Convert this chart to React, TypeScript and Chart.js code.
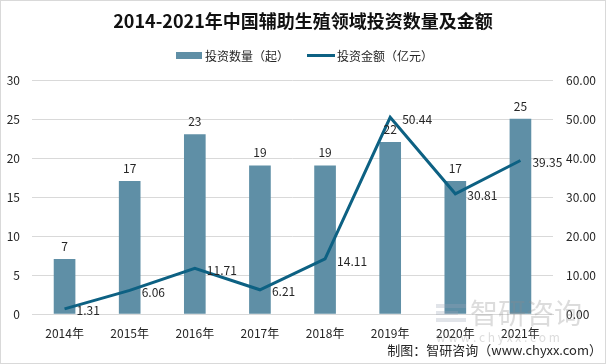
import React, { useEffect, useRef } from "react";
import { Chart, registerables } from "chart.js";

Chart.register(...registerables);

const categories = ["2014年", "2015年", "2016年", "2017年", "2018年", "2019年", "2020年", "2021年"];
const dealCounts = [7, 17, 23, 19, 19, 22, 17, 25];
const amounts = [1.31, 6.06, 11.71, 6.21, 14.11, 50.44, 30.81, 39.35];
const leftTicks = [0, 5, 10, 15, 20, 25, 30];
const rightTicks = [0, 10, 20, 30, 40, 50, 60];

const TITLE = "2014-2021年中国辅助生殖领域投资数量及金额";
const BAR_NAME = "投资数量（起）";
const LINE_NAME = "投资金额（亿元）";
const SOURCE = "制图：智研咨询（www.chyxx.com）";

const BAR_COLOR = "#5f8fa6";
const LINE_COLOR = "#0d6183";
const FONT = '"Noto Sans CJK SC", "Noto Sans", sans-serif';
const TEXT = "#262626";

const decorPlugin = {
  id: "decor",
  beforeDraw(chart: any) {
    const ctx = chart.ctx;
    ctx.save();
    ctx.fillStyle = "#ffffff";
    ctx.fillRect(0, 0, chart.width, chart.height);
    ctx.strokeStyle = "#d9d9d9";
    ctx.lineWidth = 1;
    ctx.strokeRect(0.5, 0.5, chart.width - 1, chart.height - 1);
    ctx.restore();
  },
  afterDatasetsDraw(chart: any) {
    const ctx = chart.ctx;
    ctx.save();
    // watermark
    ctx.globalAlpha = 0.3;
    ctx.fillStyle = "#9aa5b5";
    ctx.fillRect(436, 304, 30, 4);
    ctx.fillRect(436, 311, 22, 4);
    ctx.fillRect(436, 318, 30, 4);
    ctx.fillStyle = "#8a8a8a";
    ctx.font = `28px ${FONT}`;
    ctx.textAlign = "left";
    ctx.textBaseline = "middle";
    ctx.fillText("智研咨询", 470, 313);
    ctx.font = `12px ${FONT}`;
    ctx.fillText("w w w . c h y x x . c o m", 436, 337);
    ctx.globalAlpha = 1;

    // bar labels
    ctx.fillStyle = TEXT;
    ctx.font = `12px ${FONT}`;
    ctx.textAlign = "center";
    ctx.textBaseline = "middle";
    const barMeta = chart.getDatasetMeta(0);
    barMeta.data.forEach((el: any, i: number) => {
      ctx.fillText(String(dealCounts[i]), el.x, el.y - 13);
    });
    // line labels
    ctx.textAlign = "left";
    const lineMeta = chart.getDatasetMeta(1);
    lineMeta.data.forEach((el: any, i: number) => {
      ctx.fillText(amounts[i].toFixed(2), el.x + 12, el.y + 2);
    });

    // title
    ctx.font = `bold 18px ${FONT}`;
    ctx.textAlign = "center";
    ctx.fillStyle = "#111111";
    ctx.fillText(TITLE, 303, 21);

    // legend
    ctx.font = `12px ${FONT}`;
    ctx.textAlign = "left";
    ctx.fillStyle = BAR_COLOR;
    ctx.fillRect(176, 52, 26, 7);
    ctx.fillStyle = TEXT;
    ctx.fillText(BAR_NAME, 205, 56);
    ctx.strokeStyle = LINE_COLOR;
    ctx.lineWidth = 3;
    ctx.beginPath();
    ctx.moveTo(307, 55.5);
    ctx.lineTo(335, 55.5);
    ctx.stroke();
    ctx.fillText(LINE_NAME, 337, 56);

    // source
    ctx.font = `13px ${FONT}`;
    ctx.textAlign = "right";
    ctx.fillText(SOURCE, 602, 350);
    ctx.restore();
  },
};

export default function App() {
  const ref = useRef<HTMLCanvasElement>(null);
  useEffect(() => {
    document.body.style.margin = "0";
    const chart = new Chart(ref.current!, {
      type: "bar",
      data: {
        labels: categories,
        datasets: [
          {
            type: "bar",
            label: BAR_NAME,
            data: dealCounts,
            backgroundColor: BAR_COLOR,
            yAxisID: "y",
            barThickness: 21,
            order: 2,
          },
          {
            type: "line",
            label: LINE_NAME,
            data: amounts,
            borderColor: LINE_COLOR,
            backgroundColor: LINE_COLOR,
            borderWidth: 3,
            pointRadius: 0,
            tension: 0,
            yAxisID: "y1",
            order: 1,
          } as any,
        ],
      },
      options: {
        responsive: false,
        animation: false,
        layout: { padding: { top: 80, bottom: 24, left: 0, right: 0 } },
        plugins: { legend: { display: false }, title: { display: false }, tooltip: { enabled: false } },
        scales: {
          x: {
            grid: { display: false },
            border: { display: true, color: "#d9d9d9" },
            ticks: { color: TEXT, font: { family: FONT, size: 12 }, padding: 4, maxRotation: 0 },
            afterFit(s: any) { s.height = 26; },
          },
          y: {
            position: "left",
            min: 0,
            max: 30,
            afterBuildTicks(s: any) { s.ticks = leftTicks.map((v) => ({ value: v })); },
            grid: { color: "#d9d9d9", drawTicks: false },
            border: { display: false },
            ticks: { color: TEXT, font: { family: FONT, size: 12 }, padding: 12 },
            afterFit(s: any) { s.width = 32; },
          },
          y1: {
            position: "right",
            min: 0,
            max: 60,
            afterBuildTicks(s: any) { s.ticks = rightTicks.map((v) => ({ value: v })); },
            grid: { display: false, drawTicks: false },
            border: { display: false },
            ticks: {
              color: TEXT,
              font: { family: FONT, size: 12 },
              padding: 13,
              callback: (v: any) => Number(v).toFixed(2),
            },
            afterFit(s: any) { s.width = 53; },
          },
        },
      },
      plugins: [decorPlugin],
    });
    return () => chart.destroy();
  }, []);
  return <canvas ref={ref} width={606} height={364} style={{ display: "block" }} />;
}
